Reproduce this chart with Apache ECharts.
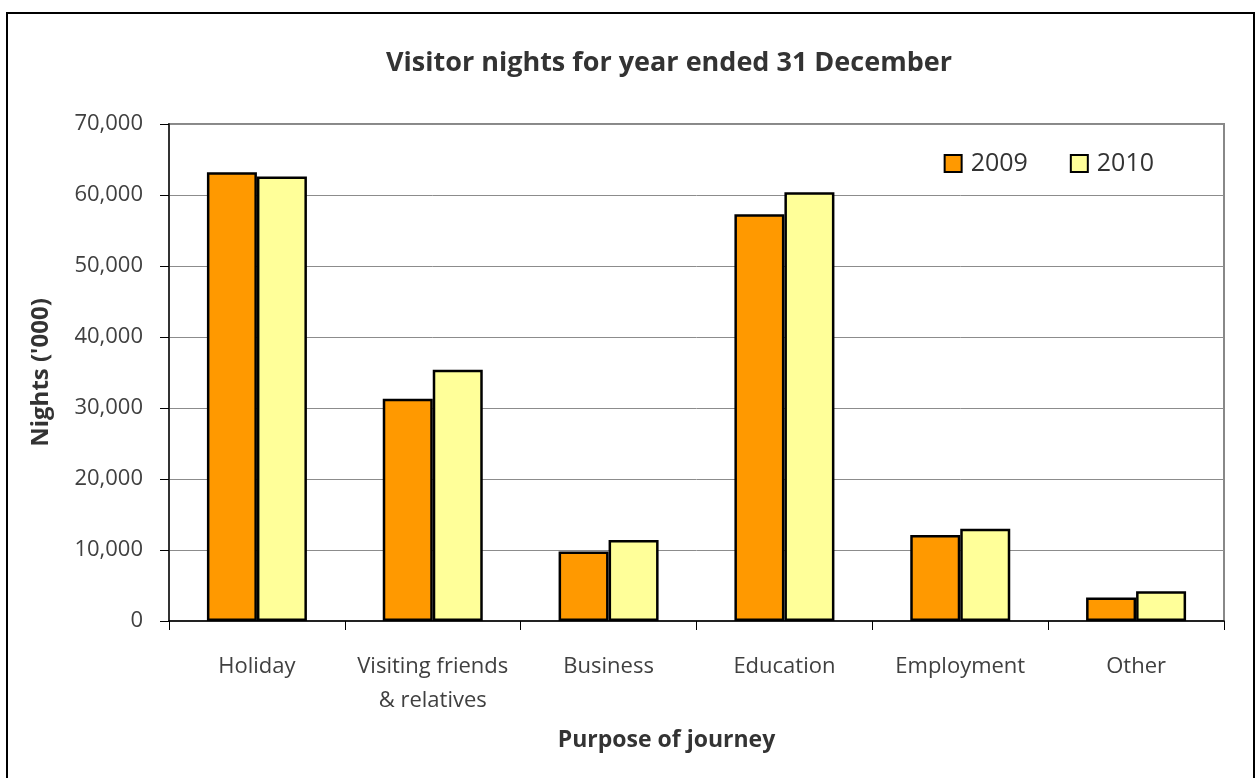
<!DOCTYPE html>
<html>
<head>
<meta charset="utf-8">
<script src="https://cdn.jsdelivr.net/npm/echarts@6/dist/echarts.min.js"></script>
<style>
html,body{margin:0;padding:0;background:#fff;}
#chart{width:1256px;height:778px;}
</style>
</head>
<body>
<div id="chart"></div>
<script>
const categories = ['Holiday', 'Visiting friends\n& relatives', 'Business', 'Education', 'Employment', 'Other'];
const values2009 = [63200, 31300, 9800, 57300, 12100, 3300];
const values2010 = [62600, 35400, 11400, 60400, 13000, 4200];
const seriesNames = ['2009', '2010'];
const yTicks = { min: 0, max: 70000, interval: 10000 };

const chart = echarts.init(document.getElementById('chart'), null, {renderer: 'canvas'});
const font = 'Open Sans, Lato, sans-serif';
chart.setOption({
  animation: false,
  backgroundColor: '#fff',
  title: {
    text: 'Visitor nights for year ended 31 December',
    left: 381, top: 45,
    textStyle: {fontFamily: font, fontSize: 27, fontWeight: 'bold', color: '#333'}
  },
  graphic: [
    {type: 'rect', shape: {x: 7, y: 13, width: 1247, height: 800}, style: {fill: 'none', stroke: '#000', lineWidth: 2}, silent: true, z: 100},
    {type: 'rect', shape: {x: 169, y: 124, width: 1055, height: 497}, style: {fill: 'none', stroke: '#888', lineWidth: 2}, silent: true, z: 0}
  ],
  legend: {
    data: seriesNames,
    right: 97, top: 146,
    itemWidth: 17, itemHeight: 17, itemGap: 42,
    icon: 'rect',
    textStyle: {fontFamily: font, fontSize: 25, color: '#333', padding: [0, 0, 0, 4]}
  },
  grid: {left: 169, right: 32, top: 124, bottom: 157, containLabel: false},
  xAxis: {
    type: 'category',
    data: categories,
    name: 'Purpose of journey',
    nameLocation: 'middle', nameGap: 108,
    nameTextStyle: {fontFamily: font, fontSize: 23, fontWeight: 'bold', color: '#333', padding: [0, 60, 0, 0]},
    axisLine: {show: true, lineStyle: {color: '#000', width: 1.5}},
    axisTick: {show: true, length: 9, interval: 0, lineStyle: {color: '#000'}},
    axisLabel: {fontFamily: font, fontSize: 22, color: '#404040', margin: 29, lineHeight: 34, interval: 0},
    boundaryGap: true
  },
  yAxis: {
    type: 'value',
    min: yTicks.min, max: yTicks.max, interval: yTicks.interval,
    name: "Nights ('000)",
    nameLocation: 'middle', nameGap: 116,
    nameTextStyle: {fontFamily: font, fontSize: 24, fontWeight: 'bold', color: '#333'},
    axisLine: {show: true, lineStyle: {color: '#333', width: 2}},
    axisTick: {show: true, length: 9, lineStyle: {color: '#000'}},
    axisLabel: {fontFamily: font, fontSize: 22, color: '#404040', margin: 26,
      formatter: v => v.toLocaleString('en-US')},
    splitLine: {show: true, lineStyle: {color: '#8c8c8c', width: 1}}
  },
  series: [
    {name: seriesNames[0], type: 'bar', data: values2009, barWidth: 50, barGap: '0%',
     itemStyle: {color: '#ff9900', borderColor: '#000', borderWidth: 2.5}},
    {name: seriesNames[1], type: 'bar', data: values2010, barWidth: 50,
     itemStyle: {color: '#ffff99', borderColor: '#000', borderWidth: 2.5}}
  ]
});
</script>
</body>
</html>
